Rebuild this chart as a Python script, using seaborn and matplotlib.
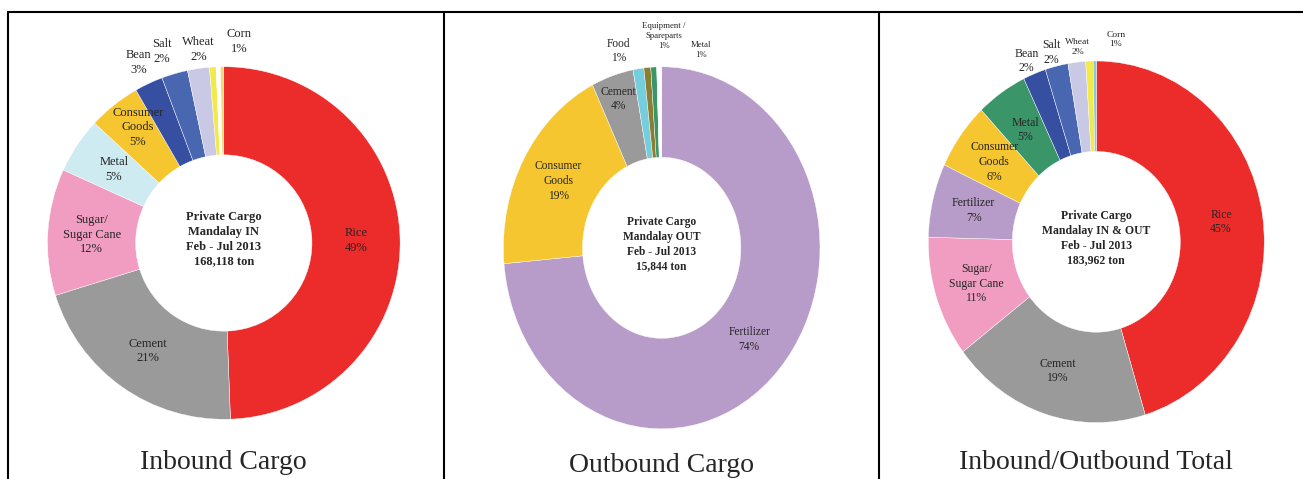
import numpy as np
import seaborn as sns
import matplotlib.pyplot as plt
from matplotlib.lines import Line2D

W, H = 1303, 479

# Inbound cargo (share of tonnage, %)
in_names = ["Rice", "Cement", "Sugar/\nSugar Cane", "Metal", "Consumer\nGoods",
            "Bean", "Salt", "Wheat", "Corn", "", ""]
in_values = [49.4, 20.8, 11.6, 5.1, 4.8, 2.6, 2.4, 2.0, 0.6, 0.4, 0.3]

# Outbound cargo
out_names = ["Fertilizer", "Consumer\nGoods", "Cement", "Food",
             "Equipment /\nSpareparts", "Metal", ""]
out_values = [73.6, 19.2, 4.3, 1.1, 0.7, 0.6, 0.5]

# Inbound + outbound
tot_names = ["Rice", "Cement", "Sugar/\nSugar Cane", "Fertilizer", "Consumer\nGoods",
             "Metal", "Bean", "Salt", "Wheat", "Corn", ""]
tot_values = [45.3, 19.3, 10.8, 6.6, 6.0, 4.9, 2.2, 2.2, 1.7, 0.7, 0.3]

center_texts = ["Private Cargo\nMandalay IN\nFeb - Jul 2013\n168,118 ton",
                "Private Cargo\nMandalay OUT\nFeb - Jul 2013\n15,844 ton",
                "Private Cargo\nMandalay IN & OUT\nFeb - Jul 2013\n183,962 ton"]
titles = ["Inbound Cargo", "Outbound Cargo", "Inbound/Outbound Total"]

palette = {
    "Rice": "#EC2B2B", "Cement": "#9A9A9A", "Sugar/\nSugar Cane": "#F19DC2",
    "Consumer\nGoods": "#F5C630", "Bean": "#364FA0", "Salt": "#4966B0",
    "Wheat": "#C9C9E6", "Corn": "#F2E94A", "Fertilizer": "#B79BC9",
    "Food": "#74CEDD", "Equipment /\nSpareparts": "#8A7E32",
}
in_colors = [palette[n] if n in palette else None for n in in_names]
in_colors[3] = "#CDEBF0"   # metal (light cyan in inbound chart)
in_colors[9] = "#FFFFFF"
in_colors[10] = "#F5D76E"
out_colors = [palette.get(n, "#3A9669") for n in out_names]
out_colors[6] = "#FFFFFF"
tot_colors = [palette.get(n, "#3A9669") for n in tot_names]
tot_colors[10] = "#86C9DA"

sns.set_theme(style="white")
plt.rcParams["font.family"] = ["Liberation Serif", "DejaVu Serif"]

fig = plt.figure(figsize=(W / 100, H / 100), dpi=100)


def donut(cx, cy, rx, ry, names, values, colors, center, title, title_base,
          fs, fs_small, small, nudges, center_fs):
    ax = fig.add_axes([(cx - rx) / W, 1 - (cy + ry) / H, 2 * rx / W, 2 * ry / H])
    wedges, _ = ax.pie(values, colors=colors, startangle=90, counterclock=False,
                       wedgeprops=dict(width=0.5, edgecolor="white", linewidth=0.3))
    ax.set_aspect("auto")
    ax.set_xlim(-1, 1)
    ax.set_ylim(-1, 1)
    ax.axis("off")

    for w, name, v in zip(wedges, names, values):
        if not name:
            continue
        mid = np.deg2rad((w.theta1 + w.theta2) / 2)
        r = 1.13 if v < 3 else 0.75
        dx, dy = nudges.get(name, (0, 0))
        ax.text(r * np.cos(mid) + dx, r * np.sin(mid) + dy, f"{name}\n{round(v)}%",
                ha="center", va="center", fontsize=fs_small if name in small else fs,
                linespacing=1.3, clip_on=False)

    ax.text(0, 0.02, center, ha="center", va="center", fontsize=center_fs,
            fontweight="bold", linespacing=1.3)
    fig.text(cx / W, 1 - title_base / H, title, ha="center", va="baseline", fontsize=20)


donut(223.8, 243, 176.3, 176.3, in_names, in_values, in_colors, center_texts[0],
      titles[0], 469, 9, 9, [],
      {"Salt": (-0.035, 0), "Wheat": (0.02, -0.02), "Corn": (0.16, 0.015),
       "Consumer\nGoods": (-0.02, 0.07)}, 9)

donut(661.7, 247.8, 158.3, 181, out_names, out_values, out_colors, center_texts[1],
      titles[1], 472, 8.3, 6.3, ["Equipment /\nSpareparts", "Metal"],
      {"Cement": (-0.04, 0.11), "Food": (-0.107, -0.03),
       "Equipment /\nSpareparts": (0.118, 0.045), "Metal": (0.305, -0.037)}, 8.3)

donut(1096.3, 241.8, 168, 180.8, tot_names, tot_values, tot_colors, center_texts[2],
      titles[2], 469, 8.5, 6.8, ["Wheat", "Corn"],
      {"Bean": (0, -0.05), "Salt": (0, -0.05), "Wheat": (0.02, -0.046),
       "Corn": (0.163, -0.01)}, 8.5)

# frame lines
lw = 1.5
y_top = 1 - 12 / H
fig.add_artist(Line2D([7.5 / W, 1], [y_top, y_top], color="black", lw=lw, transform=fig.transFigure))
for x in [7.5, 444, 879]:
    fig.add_artist(Line2D([x / W, x / W], [0, y_top], color="black", lw=lw, transform=fig.transFigure))

fig.savefig("out.png", dpi=100)
